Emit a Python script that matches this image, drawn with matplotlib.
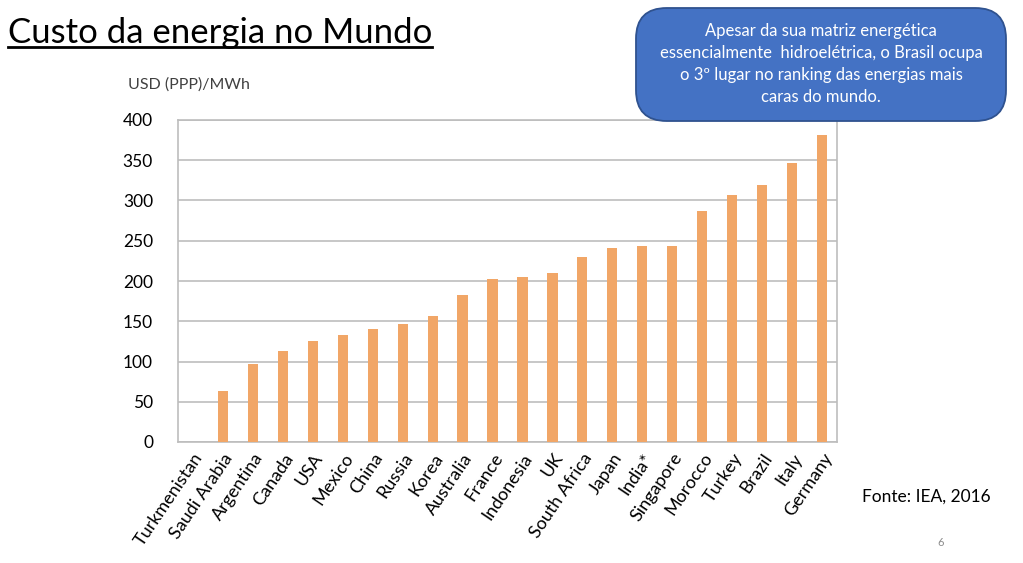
import matplotlib.pyplot as plt
from matplotlib.patches import FancyBboxPatch
from matplotlib.lines import Line2D
import numpy as np

plt.rcParams['font.family'] = ['Lato', 'DejaVu Sans']

# Data (USD (PPP)/MWh, IEA 2016)
countries = ['Turkmenistan', 'Saudi Arabia', 'Argentina', 'Canada', 'USA', 'Mexico',
             'China', 'Russia', 'Korea', 'Australia', 'France', 'Indonesia', 'UK',
             'South Africa', 'Japan', 'India*', 'Singapore', 'Morocco', 'Turkey',
             'Brazil', 'Italy', 'Germany']
costs = [0, 63, 97, 113, 125, 133, 140, 147, 157, 182, 202, 205, 210,
         230, 241, 243, 243, 287, 307, 319, 346, 381]
yticks = [0, 50, 100, 150, 200, 250, 300, 350, 400]

fig = plt.figure(figsize=(10.23, 5.63), dpi=100)
ax = fig.add_axes([178/1023, 1 - 442/563, 659/1023, 322/563])

x = np.arange(len(countries))
ax.bar(x, costs, width=0.34, color='#F1A667', zorder=3)

ax.set_xlim(-0.5, len(countries) - 0.5)
ax.set_ylim(0, 400)
ax.set_yticks(yticks)
ax.set_xticks(x)
ax.set_xticklabels(countries, rotation=56, ha='right', rotation_mode='anchor', fontsize=13)
ax.tick_params(axis='y', length=0, labelsize=12.5, pad=18)
ax.tick_params(axis='x', length=0, pad=6)
ax.grid(axis='y', color='#BDBDBD', linewidth=1.2, zorder=0)
for s in ax.spines.values():
    s.set_color('#BDBDBD')
    s.set_linewidth(1.2)

# Title with underline
fig.text(8/1023, 1 - 43/563, 'Custo da energia no Mundo', fontsize=25, ha='left', va='baseline')
fig.add_artist(Line2D([8/1023, 432/1023], [1 - 47/563, 1 - 47/563], color='black', linewidth=2))

fig.text(128/1023, 1 - 85/563, 'USD (PPP)/MWh', fontsize=11.5, ha='left', va='center', color='#404040')

# Callout box
box = FancyBboxPatch((636/1023, 1 - 121/563), 370/1023, 113/563,
                     boxstyle='round,pad=0,rounding_size=0.03', transform=fig.transFigure,
                     facecolor='#4472C4', edgecolor='#2F528F', linewidth=1.3,
                     mutation_aspect=1023/563)
fig.add_artist(box)
fig.text(821/1023, 1 - 64/563,
         'Apesar da sua matriz energética\nessencialmente  hidroelétrica, o Brasil ocupa\n'
         'o 3º lugar no ranking das energias mais\ncaras do mundo.',
         ha='center', va='center', color='white', fontsize=12, linespacing=1.45)

fig.text(862/1023, 1 - 497/563, 'Fonte: IEA, 2016', fontsize=12.5, ha='left', va='center')
fig.text(941/1023, 1 - 542/563, '6', fontsize=8, ha='center', va='center', color='#8C8C8C')

fig.savefig('out.png', dpi=100)
